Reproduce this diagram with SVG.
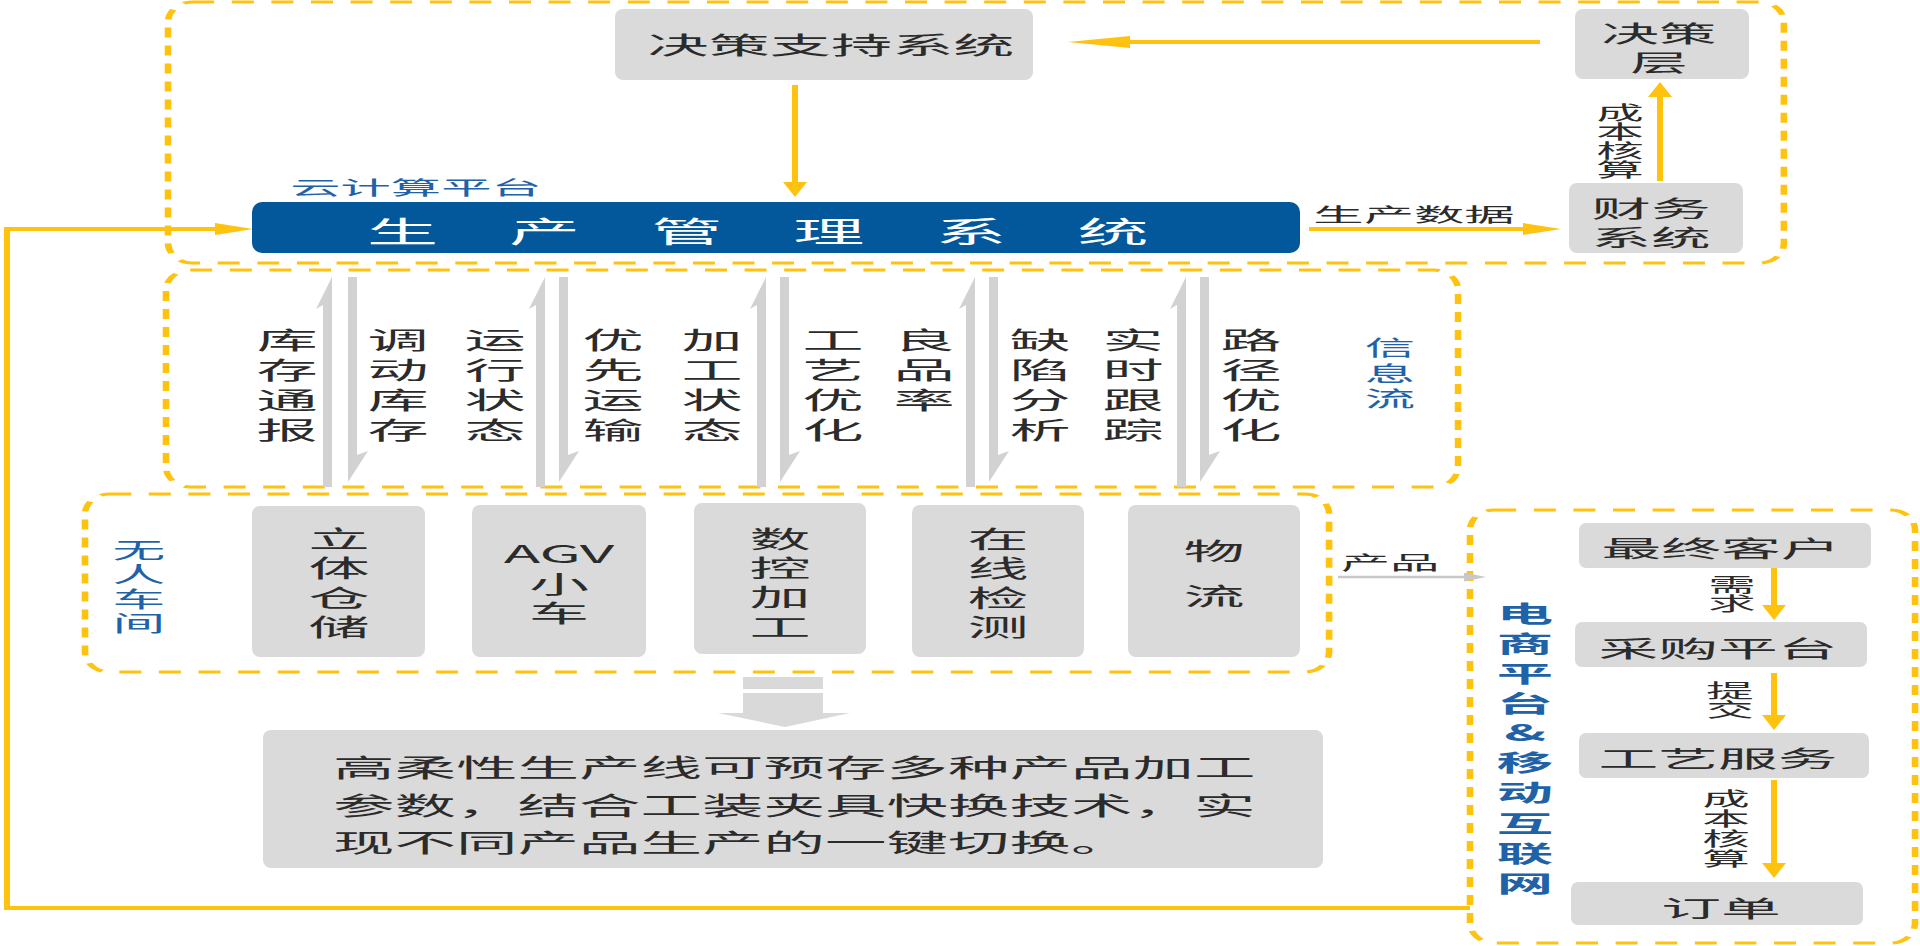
<svg xmlns="http://www.w3.org/2000/svg" width="1920" height="946" viewBox="0 0 1920 946">
<style>
text{font-family:"Noto Sans CJK SC","Noto Sans",sans-serif;text-anchor:middle;dominant-baseline:central;}
.k{fill:#2b2b2b}
.b{fill:#1F62A8}
.w{fill:#ffffff}
.g{fill:#DADADA}
.dash{fill:none;stroke:#FFC20E;stroke-width:3;stroke-dasharray:10 8}
.yh{stroke:#FFC20E;stroke-width:4;fill:none}
.yv{stroke:#FFC20E;stroke-width:6;fill:none}
.hp{fill:#D2D2D2}
</style>
<defs>
<marker id="ah" markerUnits="userSpaceOnUse" markerWidth="38" markerHeight="12" viewBox="0 0 38 12" refX="0" refY="6" orient="auto"><path d="M0,0 L38,6 L0,12 Z" fill="#FFC20E"/></marker>
<marker id="ahl" markerUnits="userSpaceOnUse" markerWidth="62" markerHeight="12" viewBox="0 0 62 12" refX="0" refY="6" orient="auto"><path d="M0,0 L62,6 L0,12 Z" fill="#FFC20E"/></marker>
<marker id="av" markerUnits="userSpaceOnUse" markerWidth="15" markerHeight="24" viewBox="0 0 15 24" refX="0" refY="12" orient="auto"><path d="M0,0 L15,12 L0,24 Z" fill="#FFC20E"/></marker>
<marker id="ag" markerUnits="userSpaceOnUse" markerWidth="22" markerHeight="9" viewBox="0 0 22 9" refX="0" refY="4.5" orient="auto"><path d="M0,0 L22,4.5 L0,9 Z" fill="#C8C8C8"/></marker>
</defs>

<!-- container regions -->
<g id="region-cloud"><rect class="dash" transform="matrix(2.2 0 0 1 168 0)" x="0" y="2" width="734.5" height="261" rx="11" ry="20"/></g>
<g id="region-info"><rect class="dash" transform="matrix(2.2 0 0 1 166 0)" x="0" y="270" width="587.3" height="217" rx="11" ry="20"/></g>
<g id="region-workshop"><rect class="dash" transform="matrix(2.2 0 0 1 85 0)" x="0" y="494" width="565.5" height="178" rx="11" ry="20"/></g>
<g id="region-ecom"><rect class="dash" transform="matrix(2.2 0 0 1 1470 0)" x="0" y="510" width="202.3" height="433" rx="11" ry="20"/></g>

<g id="connectors">
  <line class="yh" x1="1540" y1="42" x2="1130" y2="42" marker-end="url(#ahl)"/>
  <line class="yv" x1="795" y1="85" x2="795" y2="182" marker-end="url(#av)"/>
  <line class="yv" x1="1660" y1="181" x2="1660" y2="97" marker-end="url(#av)"/>
  <line class="yh" x1="1309" y1="229" x2="1523" y2="229" marker-end="url(#ah)"/>
  <path class="yh" d="M1470,908 H4"/>
  <line class="yv" x1="7" y1="910" x2="7" y2="227"/>
  <line class="yh" x1="4" y1="229" x2="215" y2="229" marker-end="url(#ah)"/>
  <line class="yv" x1="1774" y1="568" x2="1774" y2="605" marker-end="url(#av)"/>
  <line class="yv" x1="1774" y1="673" x2="1774" y2="715" marker-end="url(#av)"/>
  <line class="yv" x1="1774" y1="780" x2="1774" y2="863" marker-end="url(#av)"/>
  <line x1="1338" y1="577" x2="1464" y2="577" stroke="#C8C8C8" stroke-width="2.5" marker-end="url(#ag)"/>
  <!-- information flow harpoons -->
  <g class="hp">
    <polygon points="332,277 332,487 323,487 323,305 316,309"/>
    <polygon points="348,482 348,277 357,277 357,455 368,451"/>
    <polygon points="545,277 545,487 536,487 536,305 529,309"/>
    <polygon points="559,482 559,277 568,277 568,455 579,451"/>
    <polygon points="766,277 766,487 757,487 757,305 750,309"/>
    <polygon points="780,482 780,277 789,277 789,455 800,451"/>
    <polygon points="975,277 975,487 966,487 966,305 959,309"/>
    <polygon points="989,482 989,277 998,277 998,455 1009,451"/>
    <polygon points="1186,277 1186,487 1177,487 1177,305 1170,309"/>
    <polygon points="1200,482 1200,277 1209,277 1209,455 1220,451"/>
  </g>
  <!-- block arrow down -->
  <g fill="#D9D9D9">
    <rect x="743" y="677" width="80" height="12"/>
    <rect x="743" y="693" width="80" height="20"/>
    <polygon points="718,713 850,713 785,727"/>
  </g>
</g>

<g id="dss">
  <rect class="g" x="615" y="9" width="418" height="71" rx="8"/>
  <text class="k" font-size="24" transform="matrix(2.55 0 0 1 831 43)">决策支持系统</text>
</g>
<g id="jcc">
  <rect class="g" x="1575" y="9" width="174" height="70" rx="8"/>
  <text class="k" font-size="23" transform="matrix(2.5 0 0 1 1659 0)"><tspan x="0" y="32">决策</tspan><tspan x="0" y="61">层</tspan></text>
</g>
<g id="cwxt">
  <rect class="g" x="1569" y="183" width="174" height="70" rx="8"/>
  <text class="k" font-size="23" transform="matrix(2.6 0 0 1 1651 0)"><tspan x="0" y="207">财务</tspan><tspan x="0" y="236">系统</tspan></text>
</g>
<g id="scgl">
  <text class="b" font-size="19" transform="matrix(2.65 0 0 1 416 187)">云计算平台</text>
  <rect x="252" y="202" width="1048" height="51" rx="10" fill="#02589B"/>
  <text class="w" font-size="29" letter-spacing="29" style="text-anchor:start" transform="matrix(2.45 0 0 1 367 230)">生产管理系统</text>
</g>
<g id="edge-labels">
  <text class="k" font-size="19" transform="matrix(2.5 0 0 1 1620 0)"><tspan x="0" y="112">成</tspan><tspan x="0" y="131">本</tspan><tspan x="0" y="150">核</tspan><tspan x="0" y="169">算</tspan></text>
  <text class="k" font-size="19" transform="matrix(2.65 0 0 1 1414 214)">生产数据</text>
  <text class="k" font-size="19" transform="matrix(2.6 0 0 1 1390 562)">产品</text>
  <text class="k" font-size="19" transform="matrix(2.5 0 0 1 1732 0)"><tspan x="0" y="584">需</tspan><tspan x="0" y="603">求</tspan></text>
  <text class="k" font-size="19" transform="matrix(2.5 0 0 1 1730 0)"><tspan x="0" y="690">提</tspan><tspan x="0" y="709">交</tspan></text>
  <text class="k" font-size="19" transform="matrix(2.5 0 0 1 1726 0)"><tspan x="0" y="798">成</tspan><tspan x="0" y="818">本</tspan><tspan x="0" y="838">核</tspan><tspan x="0" y="858">算</tspan></text>
</g>

<g id="info-flow">
  <text class="k" font-size="24" transform="matrix(2.55 0 0 1 287 0)"><tspan x="0" y="338">库</tspan><tspan x="0" y="368">存</tspan><tspan x="0" y="398">通</tspan><tspan x="0" y="428">报</tspan></text>
  <text class="k" font-size="24" transform="matrix(2.55 0 0 1 398 0)"><tspan x="0" y="338">调</tspan><tspan x="0" y="368">动</tspan><tspan x="0" y="398">库</tspan><tspan x="0" y="428">存</tspan></text>
  <text class="k" font-size="24" transform="matrix(2.55 0 0 1 495 0)"><tspan x="0" y="338">运</tspan><tspan x="0" y="368">行</tspan><tspan x="0" y="398">状</tspan><tspan x="0" y="428">态</tspan></text>
  <text class="k" font-size="24" transform="matrix(2.55 0 0 1 613 0)"><tspan x="0" y="338">优</tspan><tspan x="0" y="368">先</tspan><tspan x="0" y="398">运</tspan><tspan x="0" y="428">输</tspan></text>
  <text class="k" font-size="24" transform="matrix(2.55 0 0 1 712 0)"><tspan x="0" y="338">加</tspan><tspan x="0" y="368">工</tspan><tspan x="0" y="398">状</tspan><tspan x="0" y="428">态</tspan></text>
  <text class="k" font-size="24" transform="matrix(2.55 0 0 1 833 0)"><tspan x="0" y="338">工</tspan><tspan x="0" y="368">艺</tspan><tspan x="0" y="398">优</tspan><tspan x="0" y="428">化</tspan></text>
  <text class="k" font-size="24" transform="matrix(2.55 0 0 1 924 0)"><tspan x="0" y="338">良</tspan><tspan x="0" y="368">品</tspan><tspan x="0" y="398">率</tspan></text>
  <text class="k" font-size="24" transform="matrix(2.55 0 0 1 1040 0)"><tspan x="0" y="338">缺</tspan><tspan x="0" y="368">陷</tspan><tspan x="0" y="398">分</tspan><tspan x="0" y="428">析</tspan></text>
  <text class="k" font-size="24" transform="matrix(2.55 0 0 1 1133 0)"><tspan x="0" y="338">实</tspan><tspan x="0" y="368">时</tspan><tspan x="0" y="398">跟</tspan><tspan x="0" y="428">踪</tspan></text>
  <text class="k" font-size="24" transform="matrix(2.55 0 0 1 1251 0)"><tspan x="0" y="338">路</tspan><tspan x="0" y="368">径</tspan><tspan x="0" y="398">优</tspan><tspan x="0" y="428">化</tspan></text>
  <text class="b" font-size="21" transform="matrix(2.4 0 0 1 1390 0)"><tspan x="0" y="346">信</tspan><tspan x="0" y="372">息</tspan><tspan x="0" y="397">流</tspan></text>
</g>

<g id="workshop-label">
  <text class="b" font-size="22" transform="matrix(2.4 0 0 1 139 0)"><tspan x="0" y="548">无</tspan><tspan x="0" y="572">人</tspan><tspan x="0" y="597">车</tspan><tspan x="0" y="621">间</tspan></text>
</g>
<g id="ltcc">
  <rect class="g" x="252" y="506" width="173" height="151" rx="8"/>
  <text class="k" font-size="24" transform="matrix(2.55 0 0 1 339 0)"><tspan x="0" y="537">立</tspan><tspan x="0" y="566">体</tspan><tspan x="0" y="596">仓</tspan><tspan x="0" y="625">储</tspan></text>
</g>
<g id="agv">
  <rect class="g" x="472" y="505" width="174" height="152" rx="8"/>
  <text class="k" font-size="24" transform="matrix(2.5 0 0 1 559 0)"><tspan x="0" y="552">AGV</tspan><tspan x="0" y="583">小</tspan><tspan x="0" y="612">车</tspan></text>
</g>
<g id="skjg">
  <rect class="g" x="694" y="503" width="172" height="151" rx="8"/>
  <text class="k" font-size="24" transform="matrix(2.55 0 0 1 780 0)"><tspan x="0" y="537">数</tspan><tspan x="0" y="566">控</tspan><tspan x="0" y="595">加</tspan><tspan x="0" y="625">工</tspan></text>
</g>
<g id="zxjc">
  <rect class="g" x="912" y="505" width="172" height="152" rx="8"/>
  <text class="k" font-size="24" transform="matrix(2.55 0 0 1 998 0)"><tspan x="0" y="537">在</tspan><tspan x="0" y="566">线</tspan><tspan x="0" y="596">检</tspan><tspan x="0" y="625">测</tspan></text>
</g>
<g id="wl">
  <rect class="g" x="1128" y="505" width="172" height="152" rx="8"/>
  <text class="k" font-size="24" transform="matrix(2.55 0 0 1 1214 0)"><tspan x="0" y="549">物</tspan><tspan x="0" y="594">流</tspan></text>
</g>

<g id="note">
  <rect class="g" x="263" y="730" width="1060" height="138" rx="8"/>
  <text class="k" font-size="25" style="text-anchor:start" transform="matrix(2.46 0 0 1 333 766)">高柔性生产线可预存多种产品加工</text>
  <text class="k" font-size="25" style="text-anchor:start" transform="matrix(2.46 0 0 1 333 804)">参数，结合工装夹具快换技术，实</text>
  <text class="k" font-size="25" style="text-anchor:start" transform="matrix(2.46 0 0 1 333 841)">现不同产品生产的一键切换。</text>
</g>

<g id="ecom-label">
  <text class="b" font-size="23" font-weight="bold" transform="matrix(2.45 0 0 1 1525 0)"><tspan x="0" y="612">电</tspan><tspan x="0" y="642">商</tspan><tspan x="0" y="672">平</tspan><tspan x="0" y="702">台</tspan><tspan x="0" y="731">&amp;</tspan><tspan x="0" y="761">移</tspan><tspan x="0" y="791">动</tspan><tspan x="0" y="822">互</tspan><tspan x="0" y="852">联</tspan><tspan x="0" y="882">网</tspan></text>
</g>
<g id="zzkh">
  <rect class="g" x="1579" y="523" width="292" height="45" rx="7"/>
  <text class="k" font-size="23" transform="matrix(2.6 0 0 1 1721 547)">最终客户</text>
</g>
<g id="cgpt">
  <rect class="g" x="1575" y="622" width="292" height="45" rx="7"/>
  <text class="k" font-size="23" transform="matrix(2.6 0 0 1 1718 647)">采购平台</text>
</g>
<g id="gyfw">
  <rect class="g" x="1579" y="733" width="290" height="45" rx="7"/>
  <text class="k" font-size="23" transform="matrix(2.6 0 0 1 1718 757)">工艺服务</text>
</g>
<g id="dd">
  <rect class="g" x="1571" y="882" width="292" height="43" rx="7"/>
  <text class="k" font-size="23" transform="matrix(2.6 0 0 1 1721 907)">订单</text>
</g>
</svg>
